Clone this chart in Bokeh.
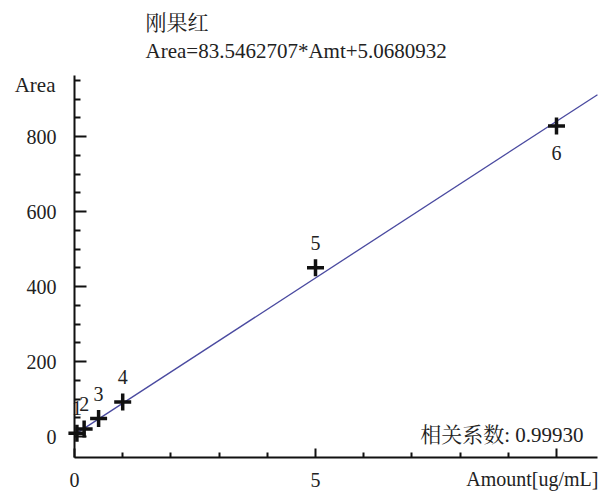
from bokeh.plotting import figure
from bokeh.models import ColumnDataSource, Label, FixedTicker, Range1d, LinearAxis
from bokeh.core.properties import value
from bokeh.embed import file_html
from bokeh.resources import INLINE

# ---- data ----
amount = [0.05, 0.2, 0.5, 1.0, 5.0, 10.0]
area = [9, 20, 48, 92, 450, 828]
point_names = ["1", "2", "3", "4", "5", "6"]
slope = 83.5462707
intercept = 5.0680932
title_cn = "刚果红"
equation = "Area=83.5462707*Amt+5.0680932"
corr_text = "相关系数: 0.99930"
x_title = "Amount[ug/mL]"
y_title = "Area"
x_major = [0, 5, 10]
x_minor = [1, 2, 3, 4, 6, 7, 8, 9]
y_major = [0, 200, 400, 600, 800]
y_minor = [50, 100, 150, 250, 300, 350, 450, 500, 550, 650, 700, 750, 850, 900, 950]
x_axis_span = (0, 10.85)
y_axis_span = (-56, 963)

# ---- layout: pixel mapping of the canvas ----
W, H = 601, 492
X0_PX, XPX_PER_UNIT = 74, 48.2      # x=0 at pixel 74
Y0_PX, YPX_PER_UNIT = 436, 0.375    # y=0 at pixel 436 (from top)

def dx(px):
    return (px - X0_PX) / XPX_PER_UNIT

def dy(py):
    return (Y0_PX - py) / YPX_PER_UNIT

FONT_S = "'Liberation Serif', 'Noto Serif CJK SC', 'Noto Sans CJK SC', serif"
FONT = value(FONT_S)
TXT = "#222222"

p = figure(width=W, height=H, output_backend="svg", toolbar_location=None,
           x_range=Range1d(dx(0), dx(W)), y_range=Range1d(dy(H), dy(0)),
           x_axis_location=None, y_axis_location=None,
           min_border=0)
p.title.visible = False
p.outline_line_color = None
p.xgrid.visible = False
p.ygrid.visible = False
p.background_fill_color = "white"
p.border_fill_color = "white"

xax = LinearAxis(fixed_location=y_axis_span[0], bounds=x_axis_span,
                 ticker=FixedTicker(ticks=x_major, minor_ticks=x_minor))
yax = LinearAxis(fixed_location=x_axis_span[0], bounds=y_axis_span,
                 ticker=FixedTicker(ticks=y_major, minor_ticks=y_minor))
for ax in (xax, yax):
    ax.axis_line_width = 2
    ax.axis_line_color = "#111111"
    ax.major_tick_line_color = "#111111"
    ax.minor_tick_line_color = "#111111"
    ax.major_tick_line_width = 2
    ax.minor_tick_line_width = 2
    ax.major_tick_out = 0
    ax.minor_tick_out = 0
    ax.major_label_text_font = FONT_S
    ax.major_label_text_font_size = "20px"
    ax.major_label_text_color = TXT

xax.major_tick_in = 9
xax.minor_tick_in = 5
xax.major_label_standoff = 15
xax.major_label_overrides = {10: ""}
yax.major_tick_in = 12
yax.minor_tick_in = 6
yax.major_label_standoff = 18
p.add_layout(xax, "below")
p.add_layout(yax, "left")

# fitted line over the x-axis span
fit_x = list(x_axis_span)
fit_y = [slope * v + intercept for v in fit_x]
p.line(fit_x, fit_y, line_color="#4a4aa0", line_width=1.3)

src = ColumnDataSource(dict(x=amount, y=area, name=point_names))
p.scatter("x", "y", source=src, marker="cross", size=17, line_width=3.5, line_color="#111111")

above = ColumnDataSource(dict(x=amount[:-1], y=area[:-1], name=point_names[:-1]))
below = ColumnDataSource(dict(x=amount[-1:], y=area[-1:], name=point_names[-1:]))
p.text("x", "y", text="name", source=above, text_font=FONT, text_font_size="20px",
       text_align="center", text_baseline="middle", y_offset=-25, text_color=TXT)
p.text("x", "y", text="name", source=below, text_font=FONT, text_font_size="20px",
       text_align="center", text_baseline="middle", y_offset=27, text_color=TXT)

def lab(px, py, text, align="left", size="21px"):
    p.add_layout(Label(x=dx(px), y=dy(py), text=text,
                       text_font=FONT_S, text_font_size=size,
                       text_align=align, text_baseline="middle", text_color=TXT))

lab(145, 22, title_cn)
lab(145, 50, equation)
lab(55, 84, y_title, "right")
lab(583, 434, corr_text, "right")
lab(598, 478, x_title, "right", "20px")

open("out.html", "w").write(file_html(p, INLINE))
